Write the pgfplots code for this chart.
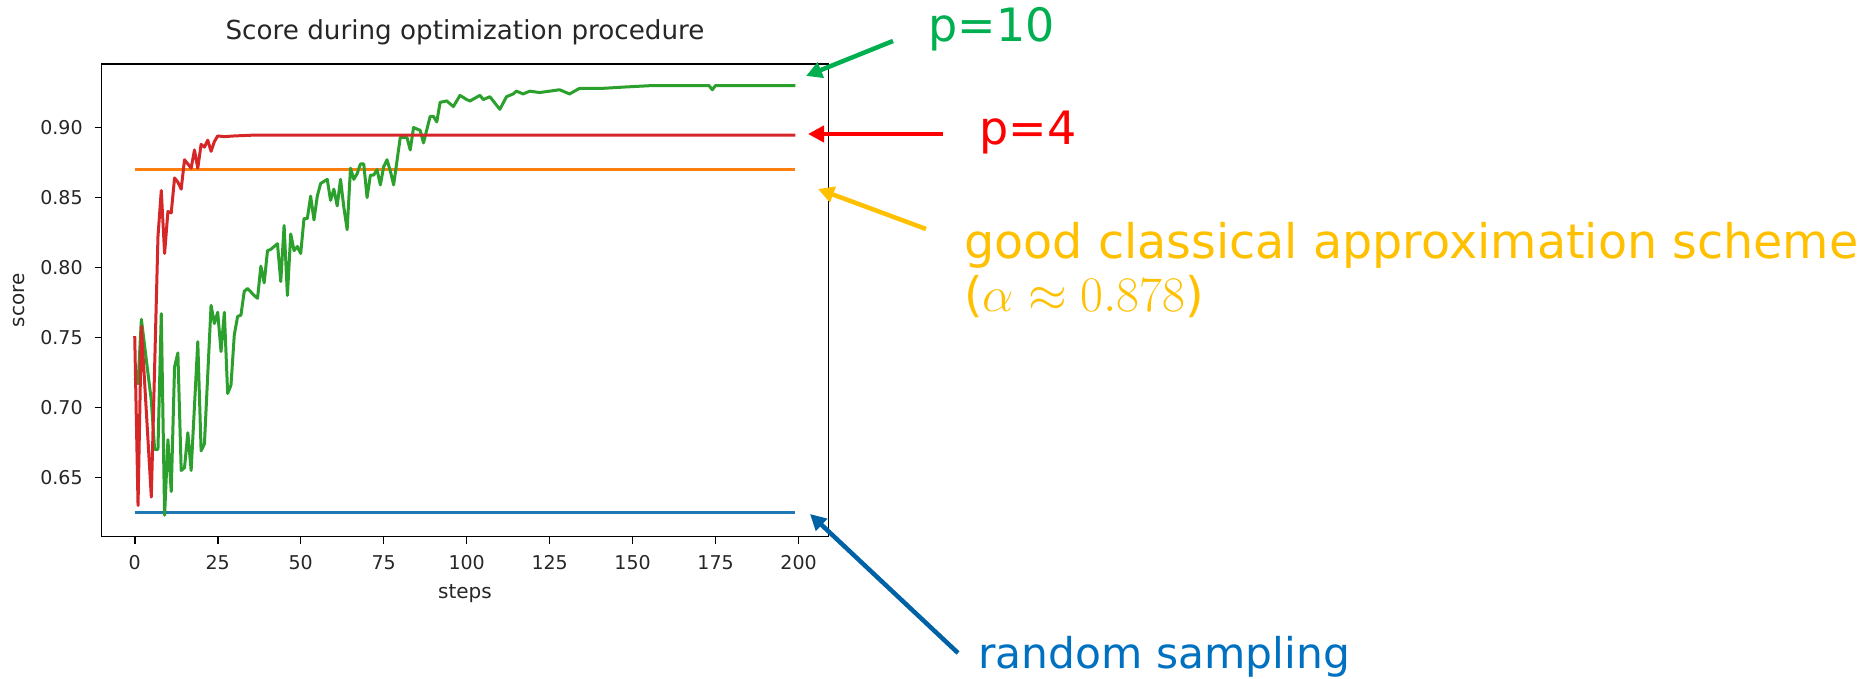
\documentclass[border=0pt]{standalone}
\usepackage{fontspec}
\setmainfont{DejaVu Sans}
\usepackage{pgfplots}
\pgfplotsset{compat=1.18}
\usetikzlibrary{arrows.meta}
\definecolor{tabblue}{HTML}{1F77B4}
\definecolor{taborange}{HTML}{FF7F0E}
\definecolor{tabgreen}{HTML}{2CA02C}
\definecolor{tabred}{HTML}{D62728}
\definecolor{annGreen}{HTML}{00B050}
\definecolor{annRed}{HTML}{FF0000}
\definecolor{annGold}{HTML}{FFC000}
\definecolor{annBlue}{HTML}{0070C0}
\definecolor{annBlueArrow}{HTML}{0062A6}

\pgfplotstableread{
step score
0 0.751
1 0.630
2 0.758
5 0.636
7 0.822
8 0.855
9 0.810
10 0.840
11 0.839
12 0.864
13 0.861
14 0.856
15 0.877
16 0.874
17 0.871
18 0.884
19 0.871
20 0.888
21 0.886
22 0.891
23 0.883
24 0.890
25 0.894
27 0.8935
30 0.8940
35 0.8945
50 0.8945
199 0.8945
}\redtable

\pgfplotstableread{
step score
0 0.721
1 0.717
2 0.763
5 0.705
6 0.670
7 0.670
8 0.767
9 0.623
10 0.677
11 0.640
12 0.729
13 0.739
14 0.655
15 0.657
16 0.682
17 0.655
19 0.747
20 0.669
21 0.674
23 0.773
24 0.760
25 0.768
26 0.740
27 0.768
28 0.710
29 0.716
30 0.752
31 0.765
32 0.766
33 0.783
34 0.785
36 0.780
37 0.778
38 0.801
39 0.789
40 0.812
41 0.813
43 0.817
44 0.790
45 0.830
46 0.780
47 0.824
48 0.812
49 0.815
50 0.810
51 0.835
52 0.835
53 0.851
54 0.834
55 0.851
56 0.860
58 0.863
59 0.848
60 0.856
61 0.844
62 0.863
63 0.843
64 0.827
65 0.871
66 0.863
67 0.867
68 0.874
69 0.874
70 0.850
71 0.866
72 0.866
73 0.870
74 0.859
75 0.872
76 0.877
77 0.869
78 0.859
80 0.893
82 0.893
83 0.884
84 0.900
86 0.898
87 0.889
89 0.908
90 0.908
91 0.904
92 0.918
94 0.919
96 0.915
98 0.923
100 0.920
101 0.919
104 0.923
105 0.920
107 0.922
108 0.919
110 0.913
112 0.922
114 0.924
115 0.926
117 0.924
119 0.926
122 0.925
125 0.926
128 0.927
130 0.925
131 0.924
134 0.928
141 0.928
148 0.929
156 0.930
166 0.930
173 0.930
174 0.927
175 0.930
186 0.930
199 0.930
}\greentable

\begin{document}
\begin{tikzpicture}
\useasboundingbox (-50.85pt,-71.15pt) rectangle (884.15pt,268.35pt);
\begin{axis}[
  at={(0,0)}, anchor=south west,
  scale only axis, width=363.3pt, height=236.35pt,
  xmin=-9.95, xmax=208.95, ymin=0.6077, ymax=0.9454,
  axis line style={line width=0.8pt, black},
  tick align=outside, major tick length=3.5pt,
  tick pos=left,
  tick style={line width=0.8pt, black},
  xtick={0,25,50,75,100,125,150,175,200},
  ytick={0.65,0.7,0.75,0.8,0.85,0.9},
  yticklabel style={/pgf/number format/fixed, /pgf/number format/precision=2, /pgf/number format/fixed zerofill, xshift=-2.5pt},
  xticklabel style={yshift=-2.5pt},
  /pgf/number format/assume math mode=true,
  ticklabel style={font=\fontsize{9.5}{11}\selectfont, text=black!85},
  title={Score during optimization procedure},
  title style={at={(axis description cs:0.5,1.0258)}, anchor=base, font=\fontsize{13.1}{15}\selectfont, text=black!85},
  xlabel={steps},
  xlabel style={at={(axis description cs:0.5,-0.1297)}, anchor=base, font=\fontsize{10}{12}\selectfont, text=black!85},
  ylabel={score},
  ylabel style={at={(axis description cs:-0.1138,0.5)}, anchor=center, font=\fontsize{10}{12}\selectfont, text=black!85},
  every axis plot/.append style={line join=round, no markers},
]
\addplot[tabblue, line width=1.9pt] coordinates {(0,0.625) (199,0.625)};
\addplot[taborange, line width=1.7pt] coordinates {(0,0.870) (199,0.870)};
\addplot[tabgreen, line width=1.5pt] table[x=step, y=score] {\greentable};
\addplot[tabred, line width=1.5pt] table[x=step, y=score] {\redtable};
\end{axis}

\node[anchor=base west, inner sep=0, text=annGreen, font=\fontsize{23}{27}\selectfont] at (413.15pt,247.35pt) {p=10};
\draw[annGreen, line width=2.25pt, -{Triangle[length=8pt,width=8pt]}] (395.65pt,247.85pt) -- (352.15pt,230.35pt);

\node[anchor=base west, inner sep=0, text=annRed, font=\fontsize{23}{27}\selectfont] at (438.65pt,195.85pt) {p=4};
\draw[annRed, line width=2.25pt, -{Triangle[length=8pt,width=8pt]}] (420.65pt,201.35pt) -- (353.15pt,201.35pt);

\node[anchor=base west, inner sep=0, align=left, text=annGold, font=\fontsize{23.8}{26.5}\selectfont] at (431.15pt,112.8pt) {good classical approximation scheme\\(\(\alpha \approx 0.878\))};
\draw[annGold, line width=2.25pt, -{Triangle[length=8pt,width=8pt]}] (412.15pt,153.85pt) -- (358.15pt,173.85pt);

\node[anchor=base west, inner sep=0, text=annBlue, font=\fontsize{21.2}{25}\selectfont] at (438.15pt,-65.95pt) {random sampling};
\draw[annBlueArrow, line width=2.25pt, -{Triangle[length=8pt,width=8pt]}] (428.15pt,-58.15pt) -- (354.15pt,11.35pt);
\end{tikzpicture}
\end{document}
